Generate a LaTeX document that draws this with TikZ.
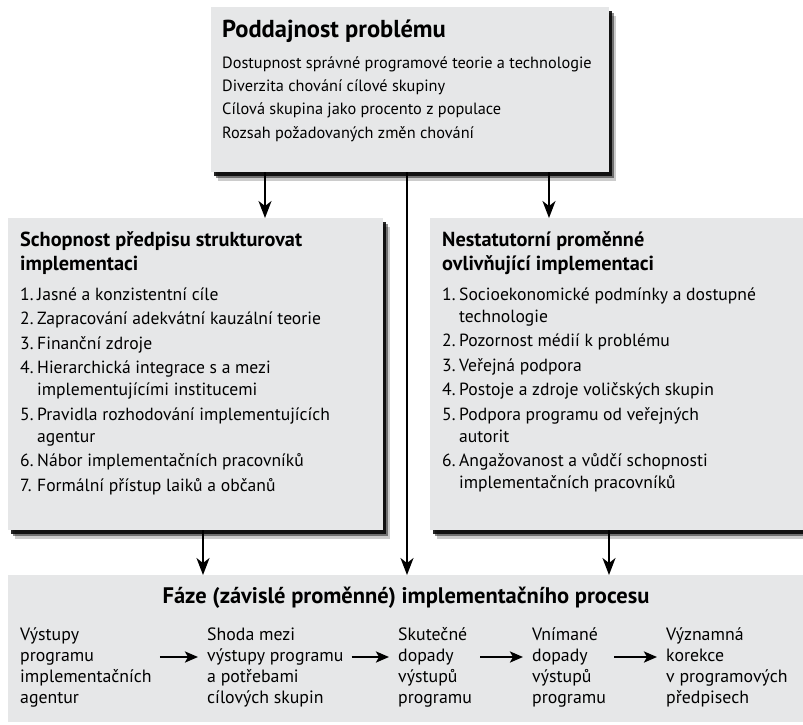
\documentclass[tikz,border=0pt]{standalone}
\usepackage{fontspec}
\setmainfont{PT Sans}
\usetikzlibrary{arrows.meta, shadows}

\definecolor{panelgray}{RGB}{230,231,232}
\newcommand{\itemno}[1]{\makebox[17pt][l]{#1}}
\newcommand{\indline}{\hspace*{17pt}}

\begin{document}
\begin{tikzpicture}[
    x=1pt, y=-1pt,
    % Grey panel with a dark drop shadow
    panel/.style={
        rectangle,
        fill=panelgray,
        draw=none,
        inner sep=0pt,
        anchor=north west,
        general shadow={fill=black, opacity=0.2, shadow xshift=6.5pt, shadow yshift=-8.5pt},
        general shadow={fill=black, opacity=0.45, shadow xshift=4.5pt, shadow yshift=-6pt},
        general shadow={fill=black, opacity=0.85, shadow xshift=3pt, shadow yshift=-3.5pt}
    },
    % Grey panel without shadow
    phasebox/.style={
        rectangle,
        fill=panelgray,
        draw=none,
        inner sep=0pt,
        anchor=north west
    },
    % Bold panel headings (placed at the baseline of their last line)
    heading/.style={
        anchor=base west,
        inner sep=0pt,
        align=left,
        font=\fontsize{20.3}{24}\selectfont\bfseries
    },
    % Lists inside the panels
    itemlist/.style={
        anchor=base west,
        inner sep=0pt,
        align=left,
        font=\fontsize{17.6}{22}\selectfont
    },
    % Phase texts
    phasetext/.style={
        anchor=base west,
        inner sep=0pt,
        align=left,
        font=\fontsize{17.8}{21}\selectfont
    },
    % Arrow style
    arrow/.style={
        -{Stealth[length=17pt, width=13pt, inset=5pt]},
        line width=1.8pt,
        black
    },
    % Arrows between phases
    flow/.style={
        -{Stealth[length=13pt, width=11pt, inset=3pt]},
        line width=2.4pt,
        black,
        shorten <=8pt,
        shorten >=9pt
    }
]
\useasboundingbox (0,0) rectangle (803,724);

% === Panels ===
\node[panel, minimum width=398pt, minimum height=165pt] (prob) at (211,7) {};
\node[panel, minimum width=375pt, minimum height=312pt] (statute) at (8,218) {};
\node[panel, minimum width=385pt, minimum height=312pt] (nonstat) at (430,218) {};
\node[phasebox, minimum width=800pt, minimum height=147pt] (phases) at (8,575) {};

% === Poddajnost problému ===
\node[heading, font=\fontsize{24.5}{28}\selectfont\bfseries] (probhead) at (222,37) {Poddajnost problému};
\node[itemlist, font=\fontsize{16.3}{23.3}\selectfont] (problist) at (222,138) {%
    Dostupnost správné programové teorie a technologie\\
    Diverzita chování cílové skupiny\\
    Cílová skupina jako procento z populace\\
    Rozsah požadovaných změn chování};

% === Schopnost předpisu ===
\node[heading] (stathead) at (20,270) {Schopnost předpisu strukturovat\\implementaci};
\node[itemlist] (statlist) at (20,491) {%
    \itemno{1.}Jasné a konzistentní cíle\\[2.5pt]
    \itemno{2.}Zapracování adekvátní kauzální teorie\\[2.5pt]
    \itemno{3.}Finanční zdroje\\[2.5pt]
    \itemno{4.}Hierarchická integrace s a mezi\\
    \indline implementujícími institucemi\\[2.5pt]
    \itemno{5.}Pravidla rozhodování implementujících\\
    \indline agentur\\[2.5pt]
    \itemno{6.}Nábor implementačních pracovníků\\[2.5pt]
    \itemno{7.}Formální přístup laiků a občanů};

% === Nestatutorní proměnné ===
\node[heading] (nonhead) at (442,270) {Nestatutorní proměnné\\ovlivňující implementaci};
\node[itemlist] (nonlist) at (442,488.5) {%
    \itemno{1.}Socioekonomické podmínky a dostupné\\
    \indline technologie\\[2.5pt]
    \itemno{2.}Pozornost médií k problému\\[2.5pt]
    \itemno{3.}Veřejná podpora\\[2.5pt]
    \itemno{4.}Postoje a zdroje voličských skupin\\[2.5pt]
    \itemno{5.}Podpora programu od veřejných\\
    \indline autorit\\[2.5pt]
    \itemno{6.}Angažovanost a vůdčí schopnosti\\
    \indline implementačních pracovníků};

% === Fáze ===
\node[heading, anchor=base, font=\fontsize{22.5}{26}\selectfont\bfseries] (phasehead) at (406,603) {Fáze (závislé proměnné) implementačního procesu};
\node[phasetext] (outputs) at (20,703) {Výstupy\\programu\\implementačních\\agentur};
\node[phasetext] (match) at (207,703) {Shoda mezi\\výstupy programu\\a potřebami\\cílových skupin};
\node[phasetext] (actual) at (398,703) {Skutečné\\dopady\\výstupů\\programu};
\node[phasetext] (perceived) at (532,703) {Vnímané\\dopady\\výstupů\\programu};
\node[phasetext] (revision) at (666,703) {Významná\\korekce\\v programových\\předpisech};

% === Arrow columns ===
\coordinate (colA) at (265,0);
\coordinate (colB) at (407,0);
\coordinate (colC) at (549,0);
\coordinate (colD) at (203,0);
\coordinate (colE) at (609,0);
\coordinate (flowrow) at (0,657);

% === Arrows between panels ===
\draw[arrow] (prob.south -| colA) -- (statute.north -| colA);
\draw[arrow] (prob.south -| colC) -- (nonstat.north -| colC);
\draw[arrow] (prob.south -| colB) -- (phases.north -| colB);
\draw[arrow] (statute.south -| colD) -- (phases.north -| colD);
\draw[arrow] (nonstat.south -| colE) -- (phases.north -| colE);

% === Arrows between phases ===
\draw[flow] (outputs.east |- flowrow) -- (match.west |- flowrow);
\draw[flow] (match.east |- flowrow) -- (actual.west |- flowrow);
\draw[flow] (actual.east |- flowrow) -- (perceived.west |- flowrow);
\draw[flow] (perceived.east |- flowrow) -- (revision.west |- flowrow);

\end{tikzpicture}
\end{document}
